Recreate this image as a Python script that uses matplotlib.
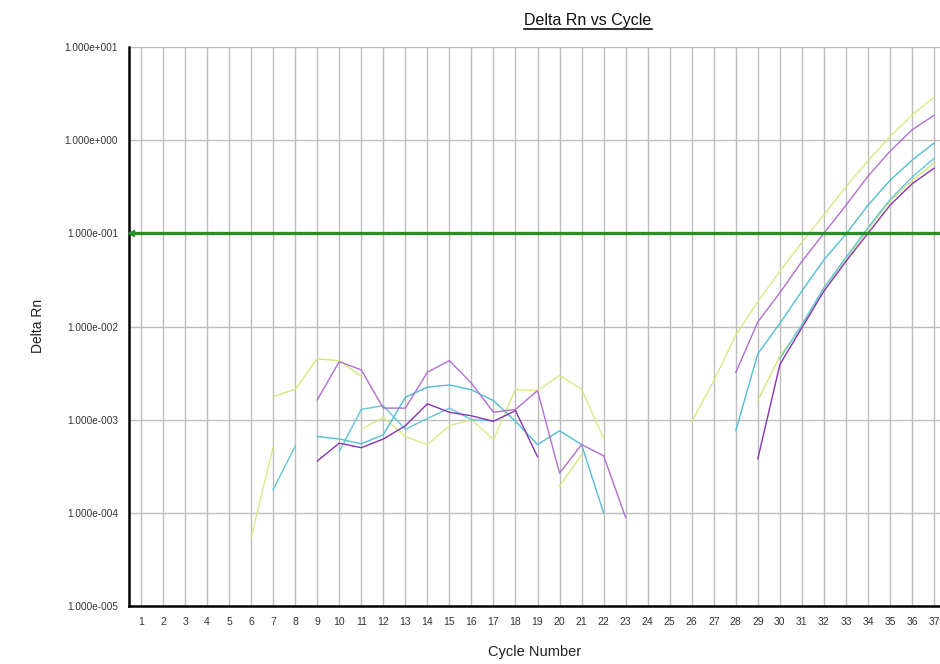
import numpy as np
import matplotlib
matplotlib.use("Agg")
import matplotlib.pyplot as plt
from matplotlib.ticker import FixedLocator, FuncFormatter, NullLocator
from matplotlib.lines import Line2D

plt.rcParams["font.family"] = ["Liberation Sans", "DejaVu Sans"]

nan = np.nan

# ======================================
# DATA (Delta Rn per cycle, nan = no point)
# ======================================
cycles = np.arange(1, 38)

yellow_a = [nan, nan, nan, nan, nan, 5.5e-5, 5.1e-4, nan, nan, nan,
            7.9e-4, 1.06e-3, 6.6e-4, 5.4e-4, 8.6e-4, 1.0e-3, 6.1e-4, 2.12e-3, 2.05e-3, 2.97e-3,
            2.12e-3, 6.3e-4, nan, nan, nan, 9.5e-4, 2.6e-3, 8.1e-3, 1.85e-2, 3.9e-2,
            0.08, 0.158, 0.316, 0.6, 1.09, 1.86, 2.9]

yellow_b = [nan, nan, nan, nan, nan, nan, 1.77e-3, 2.12e-3, 4.49e-3, 4.3e-3,
            2.9e-3, nan, nan, nan, nan, nan, nan, nan, nan, 1.95e-4,
            4.2e-4, nan, nan, nan, nan, nan, nan, nan, 1.6e-3, 4.8e-3,
            0.01, 0.026, 0.052, 0.11, 0.22, 0.37, 0.57]

violet = [nan, nan, nan, nan, nan, nan, nan, nan, 1.63e-3, 4.2e-3,
          3.42e-3, 1.33e-3, 1.33e-3, 3.23e-3, 4.3e-3, 2.46e-3, 1.2e-3, 1.29e-3, 2.05e-3, 2.67e-4,
          5.4e-4, 4.1e-4, 8.9e-5, nan, nan, nan, nan, 3.2e-3, 1.12e-2, 2.3e-2,
          0.05, 0.1, 0.2, 0.41, 0.76, 1.29, 1.85]

purple = [nan, nan, nan, nan, nan, nan, nan, nan, 3.6e-4, 5.6e-4,
          5.0e-4, 6.2e-4, 8.6e-4, 1.48e-3, 1.2e-3, 1.1e-3, 9.6e-4, 1.25e-3, 4.0e-4, nan,
          nan, nan, nan, nan, nan, nan, nan, nan, 3.8e-4, 3.9e-3,
          9.7e-3, 0.024, 0.05, 0.1, 0.2, 0.34, 0.5]

cyan_a = [nan, nan, nan, nan, nan, nan, nan, nan, 6.6e-4, 6.2e-4,
          5.5e-4, 6.9e-4, 1.74e-3, 2.23e-3, 2.36e-3, 2.09e-3, 1.6e-3, 9.6e-4, 5.4e-4, 7.6e-4,
          5.4e-4, 1.0e-4, nan, nan, nan, nan, nan, 7.6e-4, 5.1e-3, 1.08e-2,
          2.4e-2, 0.052, 0.098, 0.2, 0.37, 0.61, 0.93]

cyan_b = [nan, nan, nan, nan, nan, nan, 1.77e-4, 5.2e-4, nan, 4.55e-4,
          1.29e-3, 1.41e-3, 7.9e-4, 1.03e-3, 1.33e-3, 1.0e-3, 9.7e-4, nan, nan, nan,
          nan, nan, nan, nan, nan, nan, nan, nan, nan, 4.5e-3,
          0.0105, 0.026, 0.055, 0.115, 0.23, 0.4, 0.64]

threshold = 0.1
y_decades = [1e-5, 1e-4, 1e-3, 1e-2, 1e-1, 1e0, 1e1]

series = [
    (yellow_a, "#dbe985"),
    (yellow_b, "#d6e67a"),
    (cyan_b, "#62c8d8"),
    (cyan_a, "#4ebfd2"),
    (violet, "#b06fd2"),
    (purple, "#8a32b8"),
]

# ======================================
# PLOT
# ======================================
fig = plt.figure(figsize=(9.4, 6.64), dpi=100)
ax = fig.add_axes([129 / 940, 1 - 606 / 664, 1 - 129 / 940, (606 - 47) / 664])

for values, color in series:
    ax.plot(cycles, values, color=color, lw=1.0)

ax.set_yscale("log")
ax.set_ylim(1e-5, 1e1)
x_left = 0.455
ax.set_xlim(x_left, 37.27)

ax.axhline(threshold, color="#2a8f2a", lw=2.4, zorder=5)
ax.plot([x_left + 0.08], [threshold], marker="<", ms=4.5, color="#2a8f2a",
        clip_on=False, zorder=6)


def sci_label(v, pos):
    exp = int(round(np.log10(v)))
    sign = "+" if exp >= 0 else "-"
    return f"1.000e{sign}{abs(exp):03d}"


ax.yaxis.set_major_locator(FixedLocator(y_decades))
ax.yaxis.set_major_formatter(FuncFormatter(sci_label))
ax.yaxis.set_minor_locator(NullLocator())
ax.xaxis.set_major_locator(FixedLocator(cycles))
ax.set_xticklabels([str(c) for c in cycles])

ax.grid(True, color="#bdbdbd", lw=1.0)
ax.set_axisbelow(True)
ax.tick_params(axis="x", length=0, pad=8, labelsize=7.5, colors="#333333")
ax.tick_params(axis="y", length=0, pad=8, labelsize=7.2, colors="#333333")

for side in ["top", "right"]:
    ax.spines[side].set_visible(False)
for side in ["left", "bottom"]:
    ax.spines[side].set_linewidth(1.8)
    ax.spines[side].set_color("black")

title = fig.text(588 / 940, 1 - 20 / 664, "Delta Rn vs Cycle", ha="center", va="center",
                 fontsize=11.5, color="#111111")
fig.text(535 / 940, 1 - 652 / 664, "Cycle Number", ha="center", va="center",
         fontsize=10.5, color="#222222")
fig.text(38 / 940, 1 - 326 / 664, "Delta Rn", ha="center", va="center",
         rotation=90, fontsize=10, color="#222222")

# underline the title
fig.canvas.draw()
bb = title.get_window_extent(fig.canvas.get_renderer()).transformed(fig.transFigure.inverted())
fig.add_artist(Line2D([bb.x0, bb.x1], [bb.y0 - 0.002, bb.y0 - 0.002],
                      transform=fig.transFigure, color="#111111", lw=1.2))

fig.savefig("out.png", dpi=100)
plt.close(fig)
